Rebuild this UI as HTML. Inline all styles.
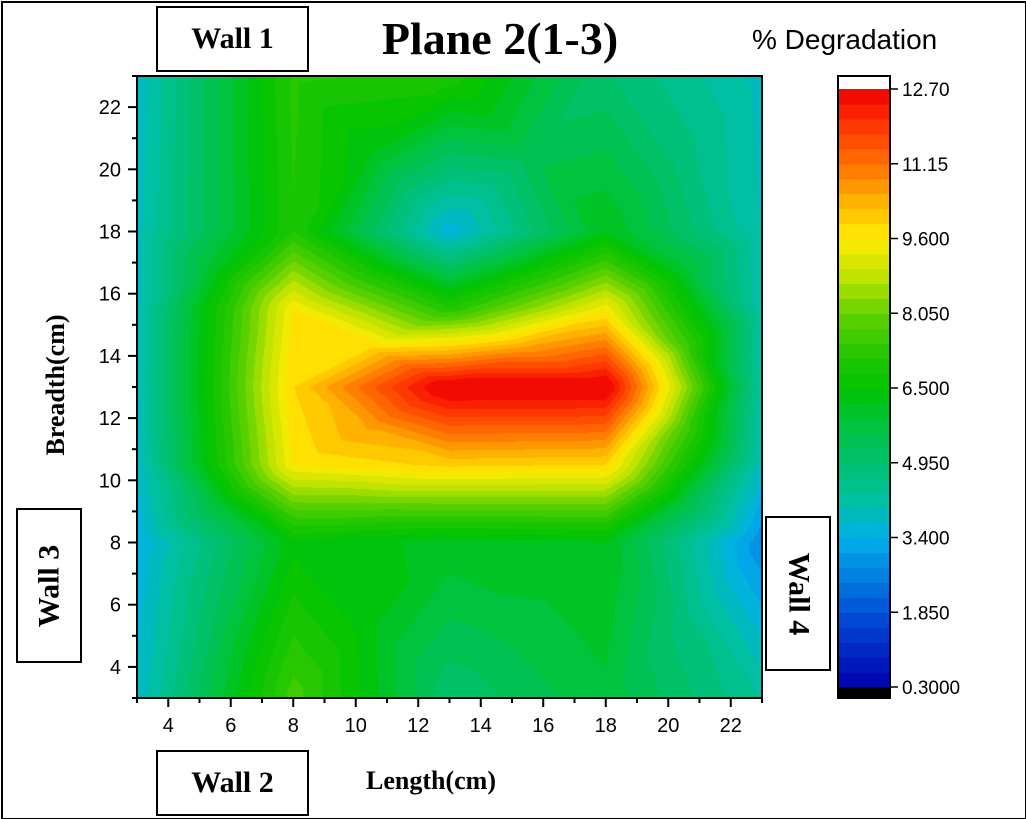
<!DOCTYPE html>
<html><head><meta charset="utf-8"><style>
body{margin:0;background:#fff;}
#root{position:relative;width:1026px;height:819px;overflow:hidden;background:#fff;font-family:"Liberation Sans",sans-serif;}
.box{position:absolute;border:2px solid #000;background:#fff;font-family:"Liberation Serif",serif;font-weight:bold;font-size:30px;display:flex;align-items:center;justify-content:center;box-sizing:border-box;}
</style></head><body>
<div id="root">
<div style="position:absolute;left:1px;top:1px;width:1022px;height:815px;border:2px solid #000;"></div>
<div class="box" style="left:156px;top:6px;width:153px;height:66px;">Wall 1</div>
<div class="box" style="left:156px;top:750px;width:153px;height:66px;">Wall 2</div>
<div class="box" style="left:16px;top:508px;width:66px;height:155px;"><span style="transform:rotate(-90deg);white-space:nowrap">Wall 3</span></div>
<div class="box" style="left:765px;top:516px;width:66px;height:155px;"><span style="transform:rotate(90deg);white-space:nowrap">Wall 4</span></div>
<div style="position:absolute;left:320px;top:12px;width:360px;text-align:center;font-family:'Liberation Serif',serif;font-weight:bold;font-size:46px;">Plane 2(1-3)</div>
<div style="position:absolute;left:752px;top:24px;font-size:28px;">% Degradation</div>
<div style="position:absolute;left:366px;top:766px;font-family:'Liberation Serif',serif;font-weight:bold;font-size:26px;">Length(cm)</div>
<div style="position:absolute;left:56px;top:385px;transform:translate(-50%,-50%) rotate(-90deg);font-family:'Liberation Serif',serif;font-weight:bold;font-size:26px;white-space:nowrap;">Breadth(cm)</div>
<canvas id="cv" width="625" height="622" style="position:absolute;left:137px;top:76px;"></canvas>
<svg id="sv" width="1026" height="819" style="position:absolute;left:0;top:0;"></svg>
</div>
<script>
const xs=[3,8,13,18,23];
const ys=[3,8,10.5,13,15.5,18,23];
const row_y3=[3.8,7.6,5.0,5.8,4.3];
const row_y8=[3.4,6.4,6.1,6.2,2.8];
const row_y10=[3.8,9.6,10.0,9.9,3.9];
const row_y13=[3.9,9.9,12.9,12.9,4.2];
const row_y15=[3.9,9.6,7.2,9.5,4.1];
const row_y18=[3.9,7.1,3.5,6.2,4.0];
const row_y23=[3.8,7.2,7.0,5.0,3.9];
const xTicks=[4,6,8,10,12,14,16,18,20,22];
const yTicks=[4,6,8,10,12,14,16,18,20,22];
const cbTicks=["0.3000","1.850","3.400","4.950","6.500","8.050","9.600","11.15","12.70"];
const Z=[row_y3,row_y8,row_y10,row_y13,row_y15,row_y18,row_y23];
const PX0=137,PX1=762,PY0=698,PY1=76;
const sx=v=>PX0+(v-3)/20*(PX1-PX0);
const sy=v=>PY0-(v-3)/20*(PY0-PY1);
const vmin=0.3,vmax=12.7,nLev=40;
const stops=[[0.3,[0,0,176]],[1.85,[0,80,216]],[3.4,[0,176,232]],[4.2,[0,192,160]],[4.95,[0,192,112]],[5.7,[0,196,64]],[6.5,[0,196,0]],[7.3,[40,200,0]],[8.05,[100,210,0]],[8.8,[190,228,0]],[9.6,[255,236,0]],[10.4,[255,176,0]],[11.15,[255,112,0]],[12,[255,50,0]],[12.7,[238,0,0]]];
function cmap(v){
  if(v<=stops[0][0])return stops[0][1];
  for(let i=1;i<stops.length;i++){if(v<=stops[i][0]){const a=stops[i-1],b=stops[i],t=(v-a[0])/(b[0]-a[0]);return a[1].map((c,k)=>Math.round(c+(b[1][k]-c)*t));}}
  return stops[stops.length-1][1];
}
function levColor(v){let k=Math.floor((v-vmin)/((vmax-vmin)/nLev));k=Math.max(0,Math.min(nLev-1,k));return cmap(vmin+(k+0.5)*(vmax-vmin)/nLev);}
function valAt(x,y){
  let i=0;while(i<xs.length-2&&x>xs[i+1])i++;
  let j=0;while(j<ys.length-2&&y>ys[j+1])j++;
  const u=(x-xs[i])/(xs[i+1]-xs[i]),w=(y-ys[j])/(ys[j+1]-ys[j]);
  const z00=Z[j][i],z10=Z[j][i+1],z01=Z[j+1][i],z11=Z[j+1][i+1];
  const zc=(z00+z10+z01+z11)/4;
  const du=u-0.5,dw=w-0.5;
  if(Math.abs(dw)>=Math.abs(du)){
    if(dw<0){const s=-dw*2;const t=s>0?(du/s+0.5):0.5;const edge=z00+(z10-z00)*t;return zc+(edge-zc)*s;}
    else{const s=dw*2;const t=s>0?(du/s+0.5):0.5;const edge=z01+(z11-z01)*t;return zc+(edge-zc)*s;}
  } else {
    if(du<0){const s=-du*2;const t=s>0?(dw/s+0.5):0.5;const edge=z00+(z01-z00)*t;return zc+(edge-zc)*s;}
    else{const s=du*2;const t=s>0?(dw/s+0.5):0.5;const edge=z10+(z11-z10)*t;return zc+(edge-zc)*s;}
  }
}
const cv=document.getElementById('cv'),ctx=cv.getContext('2d');
const W=cv.width,H=cv.height,img=ctx.createImageData(W,H);
for(let py=0;py<H;py++)for(let px=0;px<W;px++){
  const x=3+(px+0.5)/W*20,y=23-(py+0.5)/H*20;
  const c=levColor(valAt(x,y));const o=(py*W+px)*4;
  img.data[o]=c[0];img.data[o+1]=c[1];img.data[o+2]=c[2];img.data[o+3]=255;
}
ctx.putImageData(img,0,0);
const sv=document.getElementById('sv');const NS='http://www.w3.org/2000/svg';
function mk(t,a,txt){const e=document.createElementNS(NS,t);for(const k in a)e.setAttribute(k,a[k]);if(txt!==undefined)e.textContent=txt;sv.appendChild(e);return e;}
let e=mk('rect',{x:PX0,y:PY1,width:PX1-PX0,height:PY0-PY1,fill:'none',stroke:'#000','stroke-width':2});


for(let v=3;v<=23;v++){
  const major=xTicks.includes(v);
  e=mk('line',{x1:sx(v),x2:sx(v),y1:PY0,y2:PY0+(major?9:5),stroke:'#000','stroke-width':2});
  
  
  e=mk('line',{y1:sy(v),y2:sy(v),x1:PX0,x2:PX0-(major?9:5),stroke:'#000','stroke-width':2});
  
  
}
xTicks.forEach(v=>{e=mk('text',{x:sx(v),y:PY0+34,'text-anchor':'middle','font-size':20,'font-family':'Liberation Sans'},String(v));
  
  });
yTicks.forEach(v=>{e=mk('text',{x:PX0-16,y:sy(v)+7,'text-anchor':'end','font-size':20,'font-family':'Liberation Sans'},String(v));
  
  });
const CX=838,CW=52,CT=89,CB=687;
const cy=v=>CB-(v-vmin)/(vmax-vmin)*(CB-CT);
e=mk('rect',{x:CX,y:76,width:CW,height:13,fill:'#fff'});


for(let k=0;k<nLev;k++){const a=vmin+k*(vmax-vmin)/nLev,b=a+(vmax-vmin)/nLev;const c=levColor((a+b)/2);
  e=mk('rect',{x:CX,y:cy(b),width:CW,height:cy(a)-cy(b)+0.6,fill:`rgb(${c})`});
  
  }
e=mk('rect',{x:CX,y:CB,width:CW,height:11,fill:'#000'});


e=mk('rect',{x:CX,y:76,width:CW,height:622,fill:'none',stroke:'#000','stroke-width':2});


cbTicks.forEach(t=>{const y=cy(parseFloat(t));
  e=mk('line',{x1:CX+CW,x2:CX+CW+8,y1:y,y2:y,stroke:'#000','stroke-width':1.5});
  
  
  e=mk('text',{x:CX+CW+12,y:y+7,'font-size':19,'font-family':'Liberation Sans'},t);
  
  });
</script>
</body></html>
